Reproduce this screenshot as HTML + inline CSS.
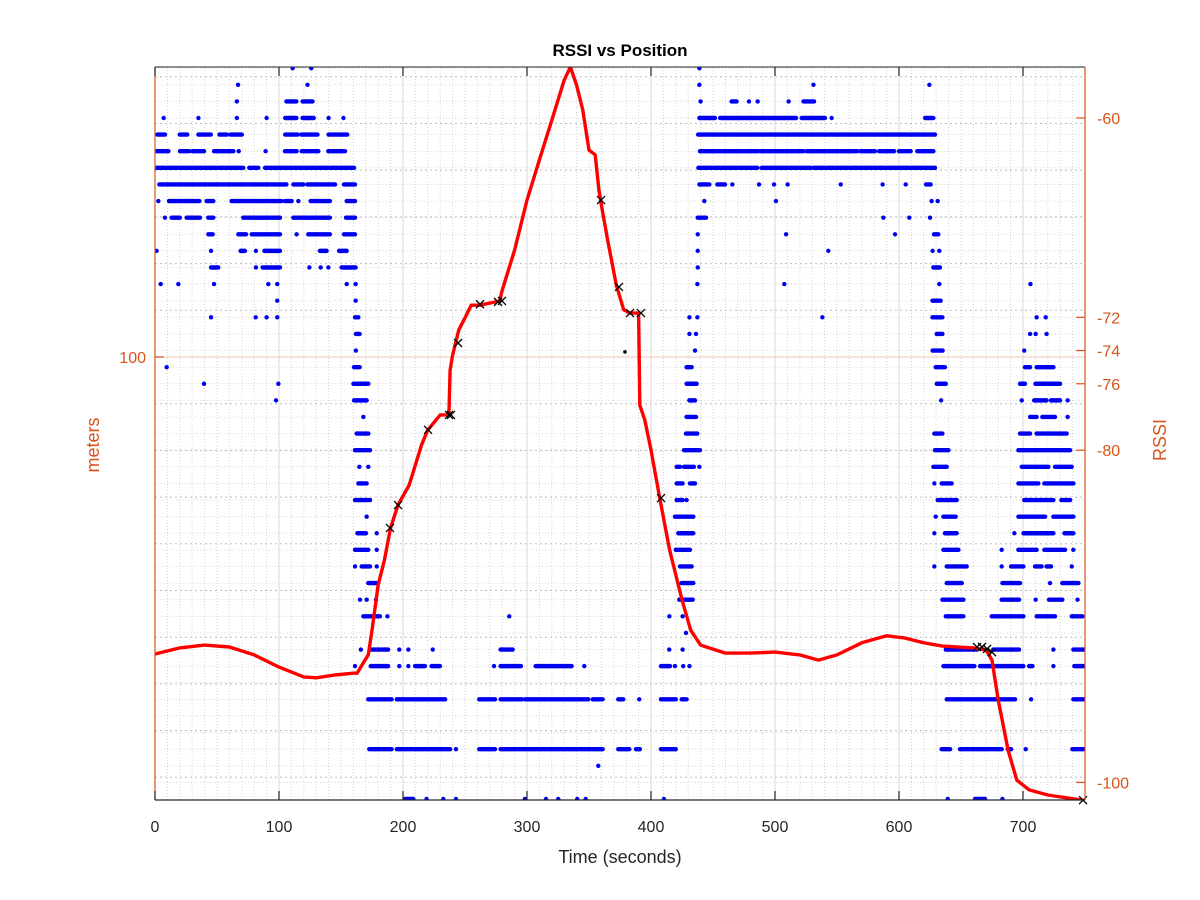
<!DOCTYPE html>
<html><head><meta charset="utf-8"><title>RSSI vs Position</title>
<style>
html,body{margin:0;padding:0;background:#fff;}
svg{display:block;font-family:"Liberation Sans",Arial,sans-serif;}
</style></head>
<body>
<svg id="chart" width="1200" height="900" viewBox="0 0 1200 900">
<defs><clipPath id="plotclip"><rect x="155" y="67" width="930" height="733"/></clipPath></defs>
<rect x="0" y="0" width="1200" height="900" fill="#fff"/>
<rect x="155" y="67" width="930" height="733" fill="#fff"/>
<g id="grid"></g>
<g id="blue" clip-path="url(#plotclip)"></g>
<g id="red" clip-path="url(#plotclip)"></g>
<g id="marks"></g>
<g id="axes"></g>
<text x="620" y="56" text-anchor="middle" font-size="17" font-weight="bold" fill="#000">RSSI vs Position</text>
<text x="620" y="863" text-anchor="middle" font-size="18" fill="#262626">Time (seconds)</text>
<text x="99" y="445" text-anchor="middle" font-size="18" fill="#D95319" transform="rotate(-90 99 445)">meters</text>
<text x="1166" y="440" text-anchor="middle" font-size="18" fill="#D95319" transform="rotate(-90 1166 440)">RSSI</text>
</svg>
<script>
const xTicks = [0,100,200,300,400,500,600,700];
const rightTicks = [-60,-72,-74,-76,-80,-100];
const leftTicks = [100];
const posT = [0,20,40,60,80,100,120,130,145,160,163,168,172,175,180,185,190,196,205,215,220,230,237,238,240,245,250,255,262,278,280,290,300,310,320,330,335,340,345,350,355,358,360,365,372,378,383,390,391,395,400,407,415,425,432,440,460,480,500,520,535,550,570,590,605,620,635,660,670,675,680,688,695,705,720,735,748];
const posM = [36.4,37.7,38.3,37.9,36.2,33.6,31.5,31.3,31.9,32.3,32.3,34.5,36.2,41.5,51.2,56.5,63.4,68.3,72.6,81.2,84.4,87.6,87.6,97.2,100.4,105.8,108.4,111.1,111.1,112.0,114.3,122.9,133.6,142.2,150.7,159.3,162.1,158.2,152.9,144.3,143.3,135.8,132.5,125.1,115.4,110.1,109.4,109.4,89.7,86.5,80.1,69.8,58.7,48.0,41.5,38.3,36.6,36.6,36.8,36.2,35.1,36.2,38.8,40.3,39.8,38.8,38.1,37.7,37.3,35.1,26.6,15.8,9.4,7.3,6.2,5.6,5.1];
const markT = [189.5,196,220.2,237.1,238.7,244.4,262.1,276.6,279.8,359.7,374.2,383.1,391.9,408.1,662.9,666.9,671,675,748.4];
const markM = [63.4,68.3,84.4,87.6,87.6,103.0,111.3,111.8,112.0,133.6,115.0,109.4,109.4,69.8,37.9,37.9,37.5,36.8,5.1];
const dotT = [379];
const dotM = [101.1];
const rssiRows = [-57,-58,-59,-60,-61,-62,-63,-64,-65,-66,-67,-68,-69,-70,-71,-72,-73,-74,-75,-76,-77,-78,-79,-80,-81,-82,-83,-84,-85,-86,-87,-88,-89,-90,-91,-92,-93,-95,-98,-99,-101];
const rssiTimes = [
 [111,126,439],
 [67,123,439,531,624.5],
 [66,[106,114],[119,127],440,[465,469],479,486,511,[523,531.5]],
 [7,35,66,90,[105,114],[119,128],140,152,[439,451.6],[455.7,517],[521.5,540.3],545.7,[621,627.7]],
 [[2,8],[20,26],[35,45],[52,58],[61,70],[105,115],[118,131],[140,155],[438,629]],
 [[1.3,10.8],[20.2,27.7],[30.4,39.5],[47.6,63.2],67.5,89.2,[104.8,114.2],[118.3,131.7],[139.8,153.2],[439.5,486.6],[488.5,522.9],[525.6,566.4],[569,580.6],[584,596],[600,609.4],[614.8,627.7]],
 [[1.3,71.2],[76,83.3],[88.7,160.5],[438.2,485.8],[489.3,528.8],[531,629]],
 [[3.5,106],[111.6,119.6],[122.8,145.2],[152.4,161.3],[439,447.1],[453.5,459.7],465.6,487.1,499.2,510.2,553,586.8,605.4,[621.8,625.5]],
 [2.7,[11.3,35.8],[41.7,47],[61.8,102],[104.8,110.2],115.6,[125.5,141],[154.6,161.3],443,500.8,626.3,631.2],
 [8,[13.4,20],[25.5,36.3],[43,47],[71.2,100.8],[111.6,141],[154,161.3],[437.7,444.4],587.4,608.3,625],
 [[43,46.5],[67.2,73.4],[78,100.8],114.2,[123.6,141],[152.4,161.3],437.7,508.9,596.8,[628.2,631.7]],
 [1.3,45.2,[69,72.6],81.4,[88.2,100.8],[133,138.4],[148.4,154.6],437.7,543,627.1,632.5],
 [[45.2,51],81.4,[86.8,100.8],124.5,133.6,139.8,[150.5,161.8],437.7,[627.7,633]],
 [4.6,18.8,47.6,91.4,98.6,154.6,161.8,437.4,507.5,632.5,706],
 [98.6,161.8,[627,633.6]],
 [45.2,81.2,90,98.6,[161.3,164],431,437.4,538.2,[627,635],711,718.3],
 [[162,165],431,436.3,[630.4,635],705.7,710.2,719],
 [162,435.5,[627.1,635.2],701],
 [9.4,[160.5,165],[428.7,432.8],[629.6,637],[701.6,705.7],[711,724.5]],
 [39.5,99.5,[160,172],[428.7,436.8],[630.4,637.7],[697.6,701.6],[710,729.9]],
 [97.6,[160.5,170.7],[430.9,435.5],634,699,[709,719],[722.6,729.9],736],
 [168,[428.7,436.3],[705.7,711],[715.6,725.8],736],
 [[162.6,172],[428.2,437.3],[628.5,635],[697.6,705.7],[711,735.2]],
 [[161.3,173.4],[426.6,439.5],[629,639.8],[696.3,738]],
 [164.8,172,[420.7,423.4],[426.6,434.6],439,[627.7,638.5],[699,720.5],[725.8,739.3]],
 [[164,170.7],[420.7,425.5],[431.4,435.5],628.5,[634.4,642.5],[696.3,712.4],[717.2,740.6]],
 [[161.3,173.4],[420.7,425.5],428.7,[631.2,646.5],[701,724.5],[731,738]],
 [170.7,[419.3,434.1],629.6,[635.8,645.7],[696.3,717.8],[724.5,740.6]],
 [[163.2,170.2],178.8,[422,434.1],628.5,[637,646.5],693,[700.3,724.5],[733.4,740.6]],
 [[161.3,172],178.8,[420,431.4],[635.8,647.9],682.8,[696.3,711],[717.2,733.9],740.6],
 [161.3,[166.7,173.4],178.8,[423.4,432.8],628.5,[638.5,654.6],682.8,[690.4,700.3],[709.7,715],[719,722.6],739.3],
 [[172,180],[424.7,434.1],[638.5,650.6],[683.4,697.6],721.8,[731.7,744.7]],
 [165.3,170.7,178.2,[422.8,433.6],[635,651.9],[682.8,696.8],710.2,[721,731.7],744],
 [[168,181.4],187.4,285.7,414.8,425.5,[637.7,651.9],[674.8,700.3],[711,725.8],[739.3,747.9]],
 [428.2],
 [166,[173.4,188],197,204.3,224,[278.7,288.4],414.7,425.5,[637.7,662.7],[676,696.8],724.5,[740.6,750]],
 [161.3,[174,188],197,204.3,[209.7,217.7],[223,229.8],273.4,[278.7,295.1],[307,336],346.2,[408,415.3],419.3,426,431,[635.8,660.8],[665.4,700.3],[704.9,707.6],724.5,[741.4,750]],
 [[172,190.8],[195,234],[261.5,274.2],[278.7,295.7],[298.3,349.4],[353,361],[373.6,377.6],390.5,[408,420],[424.7,428.7],[638.5,693.6],706.5,[740.6,750]],
 [[172.8,190.8],[195,238],242.7,[261.5,274.2],[278.7,361],[373.6,382.5],[387.9,391],[408,420],[634.4,641.2],[649.2,682.8],[687.7,690.4],702.2,[739.8,750]],
 [357.5],
 [[201.6,208.3],219,232.5,242.7,298.3,315.3,325.2,340.5,347.3,410.4,639.3,[661.3,669.4],683.4]
];

const NS = 'http://www.w3.org/2000/svg';
const X0 = 155, X1 = 1085, Y0 = 67, Y1 = 800;
function xs(t){ return X0 + t * (X1 - X0) / 750; }
function yR(r){ return 118 + (-60 - r) * 16.61; }
function yL(m){ return 357 - (m - 100) * 4.67; }
function mk(tag, attrs, parent){
  const e = document.createElementNS(NS, tag);
  for (const k in attrs) e.setAttribute(k, attrs[k]);
  parent.appendChild(e);
  return e;
}
const gGrid = document.getElementById('grid');
const gBlue = document.getElementById('blue');
const gRed = document.getElementById('red');
const gMarks = document.getElementById('marks');
const gAxes = document.getElementById('axes');

for (let t = 10; t < 750; t += 10) {
  if (t % 100 === 0) continue;
  const l = mk('line', {x1: xs(t), x2: xs(t), y1: Y0, y2: Y1, stroke: '#d4d4d4', 'stroke-width': 1, 'stroke-dasharray': '1 2'}, gGrid);
  
  
}
for (let r = -57; r >= -100; r--) {
  const l = mk('line', {x1: X0, x2: X1, y1: yR(r), y2: yR(r), stroke: '#dadada', 'stroke-width': 1, 'stroke-dasharray': '1 2'}, gGrid);
  
  
}
for (let m = 10; m <= 160; m += 10) {
  if (m === 100) continue;
  const l = mk('line', {x1: X0, x2: X1, y1: yL(m), y2: yL(m), stroke: '#bdbdbd', 'stroke-width': 1, 'stroke-dasharray': '2 3'}, gGrid);
  
  
}
xTicks.forEach(t => {
  if (t === 0) return;
  const l = mk('line', {x1: xs(t), x2: xs(t), y1: Y0, y2: Y1, stroke: '#dedede', 'stroke-width': 1.2}, gGrid);
  
  
});
leftTicks.forEach(m => {
  const l = mk('line', {x1: X0, x2: X1, y1: yL(m), y2: yL(m), stroke: '#f3d2c4', 'stroke-width': 1.2}, gGrid);
  
  
});

rssiRows.forEach((r, i) => {
  const y = yR(r);
  rssiTimes[i].forEach(s => {
    const a = Array.isArray(s) ? s[0] : s;
    const b = Array.isArray(s) ? s[1] : s;
    const l = mk('line', {x1: xs(a), x2: xs(b) + 0.01, y1: y, y2: y, stroke: '#0000f0', 'stroke-width': 4.4, 'stroke-linecap': 'round'}, gBlue);
    
    
  });
});

let pathD = '';
posT.forEach((t, i) => { pathD += (i ? 'L' : 'M') + xs(t).toFixed(1) + ' ' + yL(posM[i]).toFixed(1); });
const posLine = mk('path', {d: pathD, fill: 'none', stroke: '#ff0000', 'stroke-width': 3.4, 'stroke-linejoin': 'round', 'stroke-linecap': 'round'}, gRed);



markT.forEach((t, i) => {
  const cx = xs(t), cy = yL(markM[i]);
  const p = mk('path', {d: `M${cx-4} ${cy-4}L${cx+4} ${cy+4}M${cx-4} ${cy+4}L${cx+4} ${cy-4}`, stroke: '#000', 'stroke-width': 1.3, fill: 'none'}, gMarks);
  
  
});
dotT.forEach((t, i) => {
  const c = mk('circle', {cx: xs(t), cy: yL(dotM[i]), r: 1.8, fill: '#000'}, gMarks);
  
  
});

const axTop = mk('line', {x1: X0, x2: X1, y1: Y0, y2: Y0, stroke: '#262626', 'stroke-width': 1}, gAxes);


const axBot = mk('line', {x1: X0, x2: X1, y1: Y1, y2: Y1, stroke: '#262626', 'stroke-width': 1.2}, gAxes);


const axLeft = mk('line', {x1: X0, x2: X0, y1: Y0, y2: Y1, stroke: '#D95319', 'stroke-width': 1.2}, gAxes);


const axRight = mk('line', {x1: X1, x2: X1, y1: Y0, y2: Y1, stroke: '#D95319', 'stroke-width': 1.2}, gAxes);



xTicks.forEach(t => {
  const x = xs(t);
  const a = mk('line', {x1: x, x2: x, y1: Y1, y2: Y1 - 9, stroke: '#262626', 'stroke-width': 1.2}, gAxes);
  
  
  const b = mk('line', {x1: x, x2: x, y1: Y0, y2: Y0 + 9, stroke: '#262626', 'stroke-width': 1.2}, gAxes);
  
  
  const tx = mk('text', {x: x, y: 832, 'text-anchor': 'middle', 'font-size': 16, fill: '#262626'}, gAxes);
  tx.textContent = t;
  
  
});
leftTicks.forEach(m => {
  const y = yL(m);
  const a = mk('line', {x1: X0, x2: X0 + 9, y1: y, y2: y, stroke: '#D95319', 'stroke-width': 1.2}, gAxes);
  
  
  const tx = mk('text', {x: 146, y: y + 6, 'text-anchor': 'end', 'font-size': 16, fill: '#D95319'}, gAxes);
  tx.textContent = m;
  
  
});
rightTicks.forEach(r => {
  const y = yR(r);
  const a = mk('line', {x1: X1, x2: X1 - 9, y1: y, y2: y, stroke: '#D95319', 'stroke-width': 1.2}, gAxes);
  
  
  const tx = mk('text', {x: 1097, y: y + 6, 'text-anchor': 'start', 'font-size': 16, fill: '#D95319'}, gAxes);
  tx.textContent = r;
  
  
});
</script>
</body></html>
